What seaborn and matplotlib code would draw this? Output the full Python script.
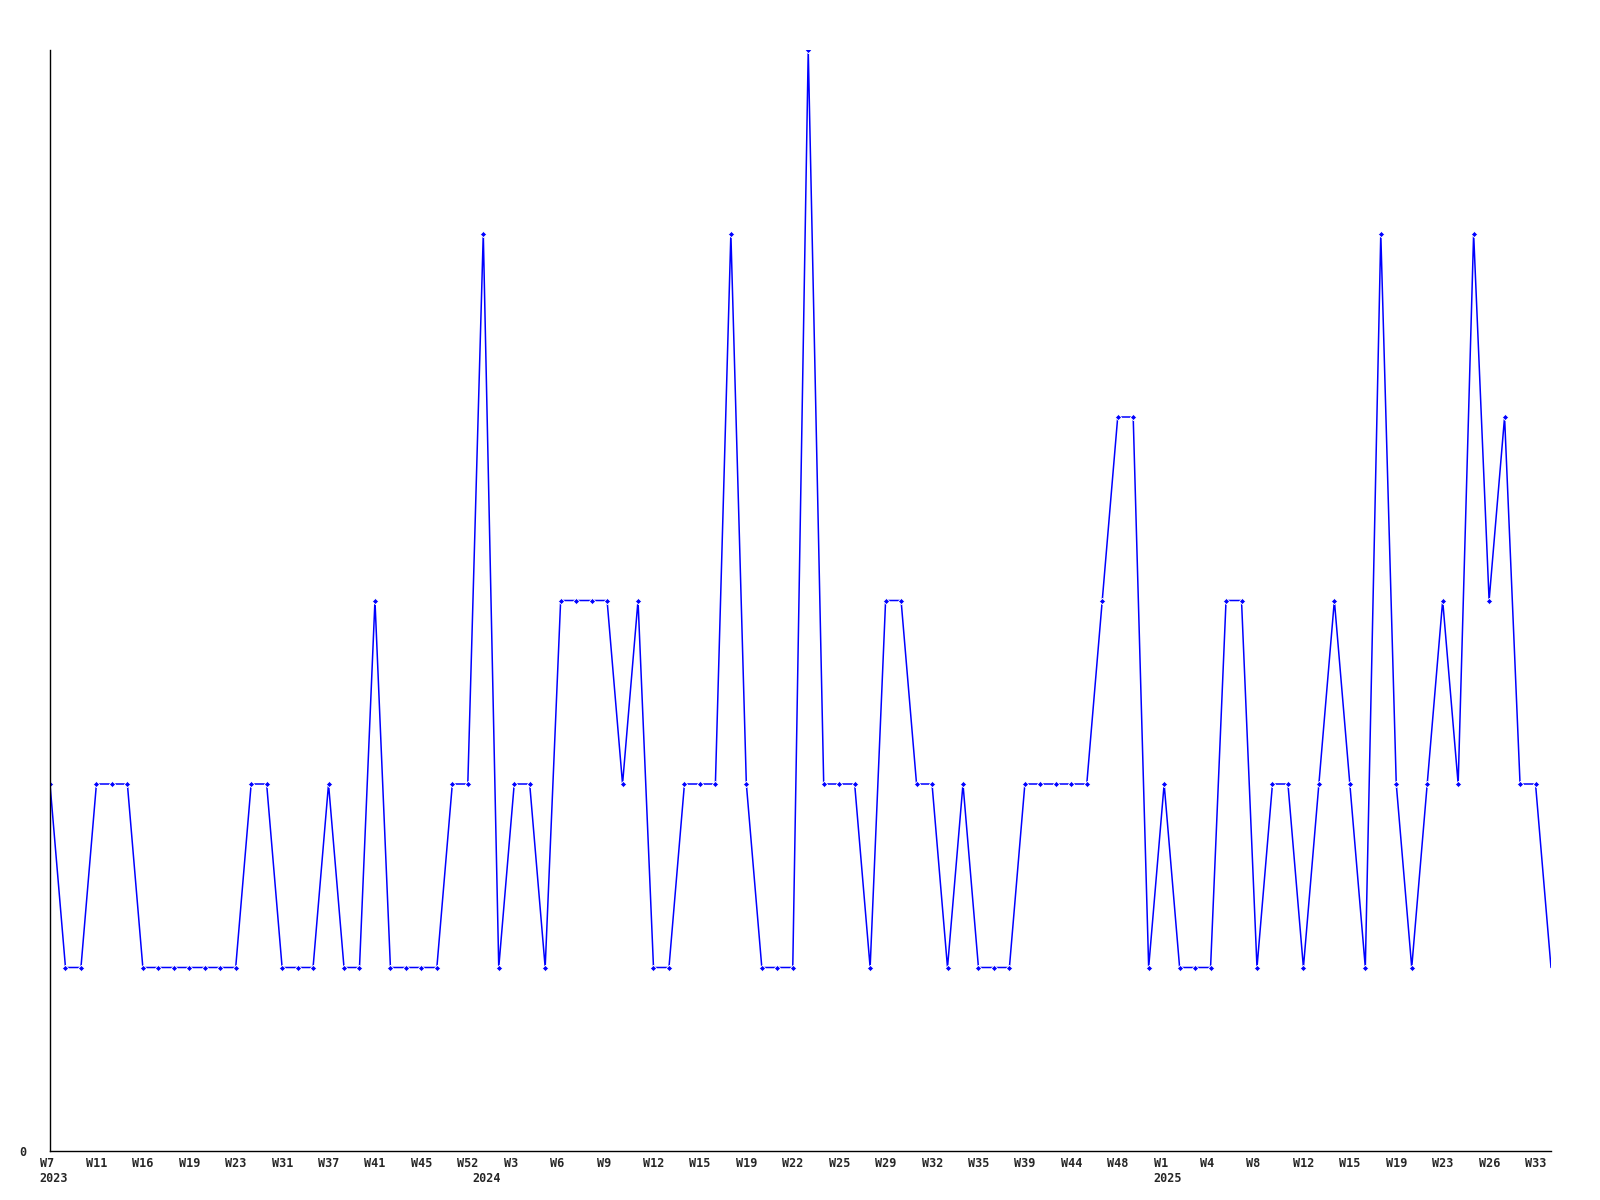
import matplotlib
matplotlib.use("Agg")
import matplotlib.pyplot as plt
import matplotlib.transforms as mtransforms
import seaborn as sns
import pandas as pd

# weekly counts, one value per point (weeks with no entries are left out)
counts = [2, 1, 1, 2, 2, 2, 1, 1, 1, 1, 1, 1, 1, 2, 2, 1, 1, 1, 2, 1,
          1, 3, 1, 1, 1, 1, 2, 2, 5, 1, 2, 2, 1, 3, 3, 3, 3, 2, 3, 1,
          1, 2, 2, 2, 5, 2, 1, 1, 1, 6, 2, 2, 2, 1, 3, 3, 2, 2, 1, 2,
          1, 1, 1, 2, 2, 2, 2, 2, 3, 4, 4, 1, 2, 1, 1, 1, 3, 3, 1, 2,
          2, 1, 2, 3, 2, 1, 5, 2, 1, 2, 3, 2, 5, 3, 4, 2, 2, 1]

# week labels shown on the x axis (every third point)
week_labels = ["W7", "W11", "W16", "W19", "W23", "W31", "W37", "W41", "W45", "W52",
               "W3", "W6", "W9", "W12", "W15", "W19", "W22", "W25", "W29", "W32",
               "W35", "W39", "W44", "W48", "W1", "W4", "W8", "W12", "W15", "W19",
               "W23", "W26", "W33"]
label_step = 3

# year labels and the point where each year starts
years = ["2023", "2024", "2025"]
year_start = [0, 28, 72]

df = pd.DataFrame({"idx": range(len(counts)), "count": counts})

sns.set_style("white")
plt.rcParams['font.family'] = ['DejaVu Sans Mono', 'DejaVu Sans']

fig = plt.figure(figsize=(16, 12), dpi=100)
ax = fig.add_axes([50 / 1600, 1 - 1151 / 1200, 1501 / 1600, 1101 / 1200])

sns.lineplot(data=df, x="idx", y="count", ax=ax, color="#0000ff",
             linewidth=1.1, marker="D", markersize=3.2, markeredgewidth=0.6,
             markevery=list(range(len(counts) - 1)))

ax.set_xlim(0, len(counts) - 1)
ax.set_ylim(0, max(counts))
ax.set_xlabel("")
ax.set_ylabel("")

for s in ["top", "right"]:
    ax.spines[s].set_visible(False)
for s in ["left", "bottom"]:
    ax.spines[s].set_color("black")
    ax.spines[s].set_linewidth(1.0)

# week ticks
ax.xaxis.remove_overlapping_locs = False
ax.set_xticks(list(range(0, len(counts), label_step))[:len(week_labels)])
ax.set_xticklabels(week_labels, fontsize=8.5, fontweight="bold", ha="left")
# year ticks on a second row
ax.set_xticks(year_start, minor=True)
ax.set_xticklabels(years, minor=True, fontsize=8.5, fontweight="bold", ha="left")
ax.tick_params(axis="x", which="major", length=0, pad=4)
ax.tick_params(axis="x", which="minor", length=0, pad=15)

offset = mtransforms.ScaledTranslation(-10.5 / 100, 0, fig.dpi_scale_trans)
for lbl in ax.get_xticklabels(which="both"):
    lbl.set_transform(lbl.get_transform() + offset)

ax.set_yticks([0])
ax.set_yticklabels(["0"], fontsize=8.5, fontweight="bold")
ax.tick_params(axis="y", length=0, pad=17)

fig.savefig("out.png", dpi=100, facecolor="white")
